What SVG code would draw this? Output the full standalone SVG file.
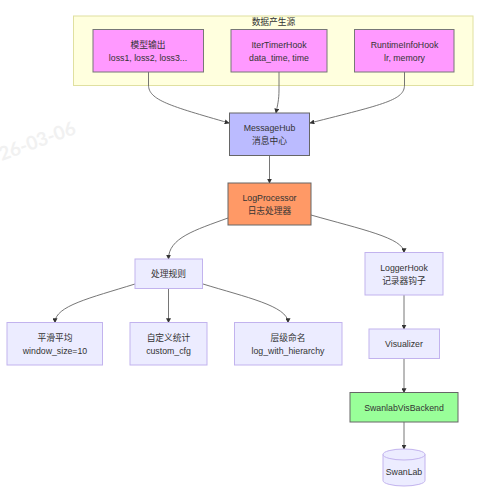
<svg xmlns="http://www.w3.org/2000/svg" width="492" height="494" viewBox="0 0 492 494">
<style>
text{font-family:"Liberation Sans","Noto Sans CJK SC",sans-serif;font-size:8.75px;fill:#333;text-anchor:middle}
.n{fill:#ececff;stroke:#c2b3ee;stroke-width:1}
.s{fill:#f9f;stroke:#777;stroke-width:1}
.e{fill:none;stroke:#666;stroke-width:.9;marker-end:url(#a)}
</style>
<defs><marker id="a" markerUnits="userSpaceOnUse" viewBox="0 0 8 8" refX="7" refY="4" markerWidth="5" markerHeight="5" orient="auto"><path d="M0 0L8 4L0 8Z" fill="#333"/></marker></defs>
<text x="29" y="151" transform="rotate(-20 29 151)" style="font-size:19px;font-weight:bold;fill:#f1f1f1;font-family:'Lato',sans-serif">2026-03-06</text>
<g id="source"><rect x="73.500" y="16" width="399.500" height="69.500" fill="#ffffde" stroke="#e0e0a0"/><text x="273.500" y="25">数据产生源</text></g>
<g id="edges">
<path class="e" d="M148.500 72V85C148.500 100 170 106 229 123"/>
<path class="e" d="M279 72V90C279 100 277.500 105 276 113"/>
<path class="e" d="M404.500 72V85C404.500 100 385 104 310 123"/>
<path class="e" d="M269.500 155.500V183"/>
<path class="e" d="M228 218C195 230 168.500 238 168.500 259"/>
<path class="e" d="M311 215C360 229 404 238 404 252.500"/>
<path class="e" d="M135 284C90 298 55 306 55 322.500"/>
<path class="e" d="M168.500 288.500V322.500"/>
<path class="e" d="M203 284C245 297 288 306 288 322.500"/>
<path class="e" d="M404 295V329"/>
<path class="e" d="M404 358.500V392.500"/>
<path class="e" d="M404 422V449"/>
</g>
<g id="A"><rect class="s" x="93" y="29.500" width="110.500" height="42.500"/><text x="148" y="47.500">模型输出</text><text x="148" y="60.500">loss1, loss2, loss3...</text></g>
<g id="B"><rect class="s" x="231" y="29.500" width="96" height="42.500"/><text x="279" y="47.500">IterTimerHook</text><text x="279" y="60.500">data_time, time</text></g>
<g id="C"><rect class="s" x="354.500" y="29.500" width="99.500" height="42.500"/><text x="404.500" y="47.500">RuntimeInfoHook</text><text x="404.500" y="60.500">lr, memory</text></g>
<g id="hub"><rect x="229.500" y="113" width="80" height="42.500" fill="#bbf" stroke="#666"/><text x="269.500" y="131">MessageHub</text><text x="269.500" y="144">消息中心</text></g>
<g id="proc"><rect x="228" y="183" width="83" height="42" fill="#f96" stroke="#666"/><text x="269.500" y="200.500">LogProcessor</text><text x="269.500" y="213.500">日志处理器</text></g>
<g id="rules"><rect class="n" x="135" y="259" width="67.500" height="29.500"/><text x="168.500" y="277">处理规则</text></g>
<g id="smooth"><rect class="n" x="7" y="322.500" width="95.500" height="42.500"/><text x="55" y="340.500">平滑平均</text><text x="55" y="353.500">window_size=10</text></g>
<g id="custom"><rect class="n" x="130" y="322.500" width="77" height="42.500"/><text x="168.500" y="340.500">自定义统计</text><text x="168.500" y="353.500">custom_cfg</text></g>
<g id="hier"><rect class="n" x="234.500" y="322.500" width="107.500" height="42.500"/><text x="288" y="340.500">层级命名</text><text x="288" y="353.500">log_with_hierarchy</text></g>
<g id="logger"><rect class="n" x="365" y="252.500" width="78" height="42.500"/><text x="404" y="270.500">LoggerHook</text><text x="404" y="283.500">记录器钩子</text></g>
<g id="vis"><rect class="n" x="369" y="329" width="70.500" height="29.500"/><text x="404" y="347">Visualizer</text></g>
<g id="backend"><rect x="350" y="392.500" width="108" height="29.500" fill="#9f9" stroke="#666"/><text x="404" y="410.500">SwanlabVisBackend</text></g>
<g id="db"><path class="n" d="M383 454.500V480.500A21 5.500 0 0 0 425 480.500V454.500A21 5.500 0 0 0 383 454.500A21 5.500 0 0 0 425 454.500"/><text x="404" y="475">SwanLab</text></g>
</svg>
